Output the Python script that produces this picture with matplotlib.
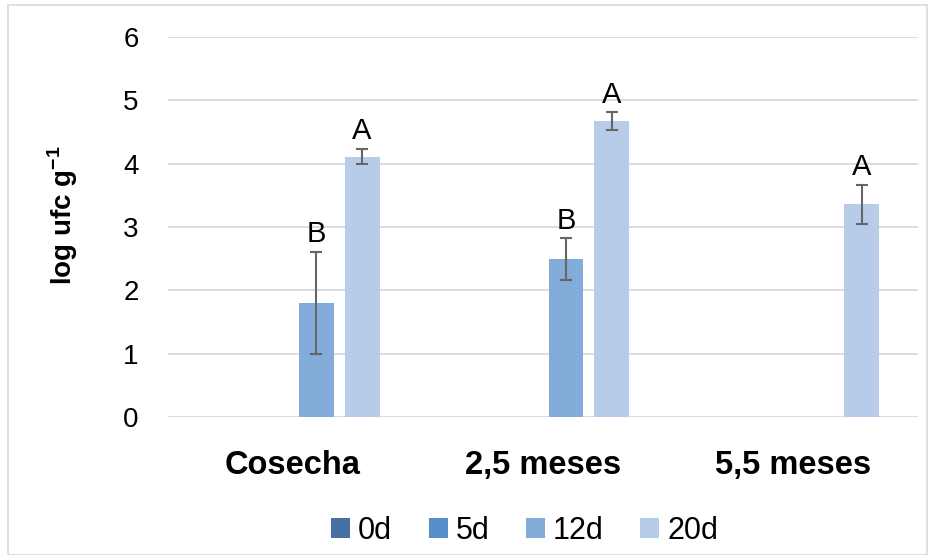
import matplotlib
matplotlib.use("Agg")
import matplotlib.pyplot as plt
import numpy as np
from matplotlib.patches import Rectangle

categories = ["Cosecha", "2,5 meses", "5,5 meses"]
series = ["0d", "5d", "12d", "20d"]
values = {
    "0d": [0, 0, 0],
    "5d": [0, 0, 0],
    "12d": [1.80, 2.49, 0],
    "20d": [4.11, 4.67, 3.36],
}
errors = {
    "0d": [0, 0, 0],
    "5d": [0, 0, 0],
    "12d": [0.81, 0.33, 0],
    "20d": [0.12, 0.14, 0.31],
}
letters = {
    "12d": ["B", "B", ""],
    "20d": ["A", "A", "A"],
}
colors = {"0d": "#44719F", "5d": "#5590C8", "12d": "#83ACDB", "20d": "#B6CCE8"}

plt.rcParams['font.family'] = ['Liberation Sans', 'DejaVu Sans']
plt.rcParams['mathtext.fontset'] = 'custom'
plt.rcParams['mathtext.rm'] = 'Liberation Sans'
plt.rcParams['mathtext.bf'] = 'Liberation Sans:bold'

fig = plt.figure(figsize=(9.35, 5.55), dpi=100)
ax = fig.add_axes([0.1797, 0.2486, 0.8021, 0.6847])
fig.patches.append(Rectangle((0.009, 0.0), 0.982, 0.991, transform=fig.transFigure,
                             fill=False, edgecolor="#D9D9D9", linewidth=1.2))

x = np.arange(len(categories))
step = 0.184
bw = 0.14
for i, s in enumerate(series):
    off = (i - 1.5) * step
    vals = np.array(values[s])
    errs = np.array(errors[s])
    ax.bar(x + off, vals, bw, color=colors[s], label=s, zorder=3)
    for j in range(len(categories)):
        if vals[j] > 0 and errs[j] > 0:
            ax.errorbar(x[j] + off, vals[j], yerr=errs[j], fmt="none", ecolor="#666666",
                        elinewidth=1.5, capsize=4.5, capthick=1.5, zorder=4)
        if s in letters and letters[s][j]:
            ax.text(x[j] + off, vals[j] + errs[j] + 0.06, letters[s][j], ha="center", va="bottom",
                    fontsize=21, color="black", zorder=5)

ax.set_ylim(0, 6)
ax.set_xlim(-0.5, 2.5)
ax.set_yticks(range(0, 7))
ax.yaxis.grid(True, color="#D9D9D9", linewidth=1.3, zorder=0)
ax.set_axisbelow(True)
for sp in ax.spines.values():
    sp.set_visible(False)
ax.tick_params(axis="both", length=0)
ax.tick_params(axis="y", labelsize=20, pad=21)
ax.set_xticks(x)
ax.set_xticklabels(categories, fontsize=23.5, fontweight="bold")
ax.tick_params(axis="x", pad=24)
ax.set_ylabel("log ufc g$^{\\mathbf{-1}}$", fontsize=20, fontweight="bold", labelpad=31)
ax.yaxis.label.set_y(0.53)

handles, labels = ax.get_legend_handles_labels()
fig.legend(handles, labels, loc="center", bbox_to_anchor=(0.561, 0.043),
           bbox_transform=fig.transFigure, ncol=4, frameon=False,
           fontsize=22, handlelength=0.62, handleheight=0.62, handletextpad=0.26,
           columnspacing=1.2, borderpad=0.1)

fig.savefig("out.png", dpi=100)
